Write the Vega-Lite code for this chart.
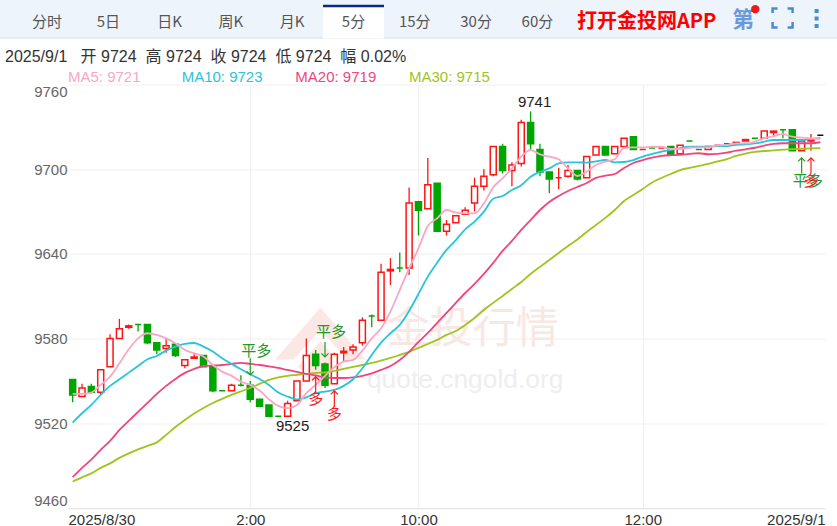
{"$schema":"https://vega.github.io/schema/vega-lite/v6.json","width":757,"height":423.5,"autosize":{"type":"none"},"padding":{"left":68,"top":84.5,"right":12,"bottom":18},"background":"#ffffff","config":{"view":{"stroke":null},"font":"Liberation Sans, Noto Sans CJK SC"},
"datasets":{
"tabs":[{"slot":"分时"},{"slot":"5日"},{"slot":"日K"},{"slot":"周K"},{"slot":"月K"},{"slot":"5分"},{"slot":"15分"},{"slot":"30分"},{"slot":"60分"}],
"ma":[{"s":"ma5","t":"MA5: 9721"},{"s":"ma10","t":"MA10: 9723"},{"s":"ma20","t":"MA20: 9719"},{"s":"ma30","t":"MA30: 9715"}],
"signals":[{"i":19,"k":"平多","d":"down","tip":9554.3,"tail":9566,"tv":9571},{"i":27,"k":"平多","d":"down","tip":9567,"tail":9577.6,"tv":9584.7},{"i":26,"k":"多","d":"up","tip":9553,"tail":9541.6,"tv":9537},{"i":28,"k":"多","d":"up","tip":9543,"tail":9531.6,"tv":9526.7},{"i":78,"k":"平多","d":"up","tip":9708,"tail":9697,"tv":9691.7},{"i":79,"k":"多","d":"up","tip":9708,"tail":9697,"tv":9691.7}],
"candles":[
{"i":0,"o":9551,"h":9551,"l":9535,"c":9540,"dir":"down","ma5":9540.8,"ma10":9520.5,"ma20":9481.8,"ma30":9478.7},
{"i":1,"o":9539,"h":9548,"l":9539,"c":9545,"dir":"up","ma5":9540.8,"ma10":9527.1,"ma20":9488.4,"ma30":9481.7},
{"i":2,"o":9546,"h":9548,"l":9541,"c":9542,"dir":"down","ma5":9541.8,"ma10":9533,"ma20":9494.4,"ma30":9484.5},
{"i":3,"o":9542,"h":9558,"l":9540,"c":9558,"dir":"up","ma5":9547.2,"ma10":9540.1,"ma20":9501.2,"ma30":9488.4},
{"i":4,"o":9560,"h":9583,"l":9560,"c":9580,"dir":"up","ma5":9553.1,"ma10":9546.5,"ma20":9507.5,"ma30":9491.6},
{"i":5,"o":9580,"h":9594,"l":9580,"c":9587,"dir":"up","ma5":9562.5,"ma10":9551.2,"ma20":9515.3,"ma30":9495.5},
{"i":6,"o":9588,"h":9590,"l":9587,"c":9589,"dir":"up","ma5":9572.4,"ma10":9555.9,"ma20":9521.7,"ma30":9498.7},
{"i":7,"o":9590,"h":9590,"l":9585,"c":9590,"dir":"down","ma5":9580.2,"ma10":9560.6,"ma20":9528.1,"ma30":9501.5},
{"i":8,"o":9590,"h":9590,"l":9576,"c":9577,"dir":"down","ma5":9583.8,"ma10":9565.4,"ma20":9534.4,"ma30":9504},
{"i":9,"o":9577,"h":9577,"l":9569,"c":9572,"dir":"down","ma5":9582.6,"ma10":9567.7,"ma20":9540.8,"ma30":9506.5},
{"i":10,"o":9573,"h":9580,"l":9570,"c":9575,"dir":"up","ma5":9580.2,"ma10":9571.5,"ma20":9546.5,"ma30":9511.8},
{"i":11,"o":9576,"h":9577,"l":9567,"c":9568,"dir":"down","ma5":9576.7,"ma10":9574.3,"ma20":9551.4,"ma30":9517.4},
{"i":12,"o":9561,"h":9565,"l":9559,"c":9565,"dir":"up","ma5":9572,"ma10":9576.2,"ma20":9555.7,"ma30":9522.4},
{"i":13,"o":9566,"h":9570,"l":9566,"c":9567,"dir":"up","ma5":9569.6,"ma10":9576.9,"ma20":9558.5,"ma30":9527},
{"i":14,"o":9568,"h":9568,"l":9560,"c":9560,"dir":"down","ma5":9567.3,"ma10":9574.3,"ma20":9560.6,"ma30":9530.9},
{"i":15,"o":9560,"h":9560,"l":9542,"c":9543,"dir":"down","ma5":9561.3,"ma10":9570.8,"ma20":9561,"ma30":9534.4},
{"i":16,"o":9543,"h":9543,"l":9543,"c":9543,"dir":"down","ma5":9556.6,"ma10":9566.1,"ma20":9561.3,"ma30":9537.3},
{"i":17,"o":9543,"h":9548,"l":9543,"c":9547,"dir":"up","ma5":9553.6,"ma10":9562.1,"ma20":9562.1,"ma30":9540.1},
{"i":18,"o":9547,"h":9554,"l":9546,"c":9547,"dir":"down","ma5":9549.5,"ma10":9558.3,"ma20":9562.8,"ma30":9542.6},
{"i":19,"o":9547,"h":9550,"l":9535,"c":9537,"dir":"down","ma5":9547.2,"ma10":9554.7,"ma20":9562.1,"ma30":9545.1},
{"i":20,"o":9537,"h":9537,"l":9532,"c":9532,"dir":"down","ma5":9543.2,"ma10":9551.4,"ma20":9561.3,"ma30":9547.9},
{"i":21,"o":9533,"h":9533,"l":9525,"c":9525,"dir":"down","ma5":9537,"ma10":9547.2,"ma20":9560.3,"ma30":9550.7},
{"i":22,"o":9525,"h":9525,"l":9525,"c":9525,"dir":"down","ma5":9532.3,"ma10":9541.8,"ma20":9559.2,"ma30":9552.5},
{"i":23,"o":9525,"h":9536,"l":9525,"c":9534,"dir":"up","ma5":9530.7,"ma10":9538.9,"ma20":9557.8,"ma30":9553.6},
{"i":24,"o":9536,"h":9550,"l":9536,"c":9550,"dir":"up","ma5":9533,"ma10":9537,"ma20":9556.4,"ma30":9554.3},
{"i":25,"o":9550,"h":9580,"l":9550,"c":9568,"dir":"up","ma5":9541.3,"ma10":9538.4,"ma20":9555,"ma30":9555},
{"i":26,"o":9569,"h":9572,"l":9558,"c":9561,"dir":"down","ma5":9547.2,"ma10":9541.3,"ma20":9553.9,"ma30":9555.7},
{"i":27,"o":9562,"h":9563,"l":9545,"c":9547,"dir":"down","ma5":9553.6,"ma10":9542.5,"ma20":9552.5,"ma30":9556},
{"i":28,"o":9548,"h":9570,"l":9548,"c":9569,"dir":"up","ma5":9559.7,"ma10":9543.6,"ma20":9552.1,"ma30":9557.1},
{"i":29,"o":9570,"h":9574,"l":9564,"c":9571,"dir":"up","ma5":9563.7,"ma10":9546.5,"ma20":9552.1,"ma30":9558.5},
{"i":30,"o":9572,"h":9576,"l":9569,"c":9574,"dir":"up","ma5":9564.9,"ma10":9551.2,"ma20":9552.5,"ma30":9559.9},
{"i":31,"o":9577,"h":9595,"l":9575,"c":9593,"dir":"up","ma5":9571.5,"ma10":9559,"ma20":9553.6,"ma30":9561.3},
{"i":32,"o":9596,"h":9597,"l":9588,"c":9596,"dir":"down","ma5":9580.2,"ma10":9568.4,"ma20":9555.3,"ma30":9562.8},
{"i":33,"o":9593,"h":9633,"l":9593,"c":9627,"dir":"up","ma5":9587.3,"ma10":9577.2,"ma20":9557.8,"ma30":9564.5},
{"i":34,"o":9628,"h":9637,"l":9618,"c":9629,"dir":"up","ma5":9599.1,"ma10":9583.8,"ma20":9560.6,"ma30":9566.3},
{"i":35,"o":9630,"h":9641,"l":9627,"c":9630,"dir":"down","ma5":9614.4,"ma10":9589.7,"ma20":9564.9,"ma30":9568.4},
{"i":36,"o":9630,"h":9687,"l":9625,"c":9676,"dir":"up","ma5":9629.8,"ma10":9599.6,"ma20":9570.6,"ma30":9570.6},
{"i":37,"o":9677,"h":9677,"l":9653,"c":9671,"dir":"down","ma5":9644,"ma10":9611.6,"ma20":9577.6,"ma30":9573.4},
{"i":38,"o":9672,"h":9708,"l":9672,"c":9689,"dir":"up","ma5":9659.8,"ma10":9623.9,"ma20":9584,"ma30":9576.2},
{"i":39,"o":9690,"h":9690,"l":9656,"c":9656,"dir":"down","ma5":9665.2,"ma10":9633.8,"ma20":9591.1,"ma30":9579.1},
{"i":40,"o":9656,"h":9664,"l":9653,"c":9661,"dir":"up","ma5":9671.1,"ma10":9642.8,"ma20":9598.2,"ma30":9582.6},
{"i":41,"o":9662,"h":9667,"l":9662,"c":9667,"dir":"up","ma5":9669.2,"ma10":9649.8,"ma20":9605.3,"ma30":9585.4},
{"i":42,"o":9668,"h":9673,"l":9668,"c":9671,"dir":"up","ma5":9668.7,"ma10":9657.4,"ma20":9612.3,"ma30":9589.7},
{"i":43,"o":9676,"h":9694,"l":9670,"c":9688,"dir":"up","ma5":9668.7,"ma10":9662.8,"ma20":9618.7,"ma30":9594.6},
{"i":44,"o":9688,"h":9700,"l":9685,"c":9695,"dir":"up","ma5":9675.8,"ma10":9669.9,"ma20":9625.8,"ma30":9600.3},
{"i":45,"o":9696,"h":9716,"l":9695,"c":9716,"dir":"up","ma5":9687.1,"ma10":9679.1,"ma20":9633.6,"ma30":9605.3},
{"i":46,"o":9716,"h":9718,"l":9697,"c":9699,"dir":"down","ma5":9693.5,"ma10":9681,"ma20":9642.1,"ma30":9610.2},
{"i":47,"o":9699,"h":9705,"l":9688,"c":9703,"dir":"up","ma5":9700.6,"ma10":9685.3,"ma20":9649.2,"ma30":9615.2},
{"i":48,"o":9704,"h":9735,"l":9702,"c":9733,"dir":"up","ma5":9708.9,"ma10":9688.6,"ma20":9657,"ma30":9620.1},
{"i":49,"o":9733,"h":9741,"l":9714,"c":9718,"dir":"down","ma5":9713.6,"ma10":9694.7,"ma20":9664,"ma30":9625.8},
{"i":50,"o":9714,"h":9718,"l":9695,"c":9698,"dir":"down","ma5":9710.5,"ma10":9698.2,"ma20":9671.1,"ma30":9630.8},
{"i":51,"o":9698,"h":9698,"l":9683,"c":9693,"dir":"down","ma5":9708.9,"ma10":9700.6,"ma20":9676.8,"ma30":9635.7},
{"i":52,"o":9694,"h":9701,"l":9686,"c":9694,"dir":"up","ma5":9707,"ma10":9704.1,"ma20":9681,"ma30":9640.7},
{"i":53,"o":9695,"h":9703,"l":9694,"c":9699,"dir":"up","ma5":9700.6,"ma10":9704.9,"ma20":9684.6,"ma30":9645.6},
{"i":54,"o":9699,"h":9699,"l":9692,"c":9693,"dir":"down","ma5":9695.2,"ma10":9704.9,"ma20":9687.4,"ma30":9650.2},
{"i":55,"o":9694,"h":9709,"l":9694,"c":9709,"dir":"up","ma5":9698.2,"ma10":9704.6,"ma20":9690.2,"ma30":9655.5},
{"i":56,"o":9710,"h":9716,"l":9710,"c":9716,"dir":"up","ma5":9703,"ma10":9705.6,"ma20":9693.8,"ma30":9660.5},
{"i":57,"o":9716,"h":9716,"l":9710,"c":9710,"dir":"down","ma5":9705.3,"ma10":9706.5,"ma20":9695.4,"ma30":9665.5},
{"i":58,"o":9711,"h":9716,"l":9711,"c":9716,"dir":"up","ma5":9707,"ma10":9704.8,"ma20":9696.6,"ma30":9671.1},
{"i":59,"o":9716,"h":9722,"l":9716,"c":9722,"dir":"up","ma5":9715.2,"ma10":9705.1,"ma20":9700.9,"ma30":9677.5},
{"i":60,"o":9723,"h":9723,"l":9714,"c":9714,"dir":"down","ma5":9715.5,"ma10":9706.5,"ma20":9704.4,"ma30":9681.7},
{"i":61,"o":9714,"h":9714,"l":9714,"c":9714,"dir":"up","ma5":9715.5,"ma10":9708.9,"ma20":9706.5,"ma30":9686},
{"i":62,"o":9715,"h":9715,"l":9715,"c":9715,"dir":"down","ma5":9715.9,"ma10":9710.7,"ma20":9708.2,"ma30":9690.6},
{"i":63,"o":9715,"h":9715,"l":9715,"c":9715,"dir":"up","ma5":9715.9,"ma10":9712.4,"ma20":9709.4,"ma30":9693.8},
{"i":64,"o":9716,"h":9716,"l":9710,"c":9710,"dir":"down","ma5":9714.3,"ma10":9713.6,"ma20":9709.9,"ma30":9696.6},
{"i":65,"o":9711,"h":9717,"l":9711,"c":9717,"dir":"up","ma5":9714.3,"ma10":9715,"ma20":9710.1,"ma30":9699.4},
{"i":66,"o":9720,"h":9720,"l":9720,"c":9720,"dir":"down","ma5":9715.2,"ma10":9715.9,"ma20":9710.8,"ma30":9700.9},
{"i":67,"o":9714,"h":9714,"l":9714,"c":9714,"dir":"down","ma5":9715.5,"ma10":9715.9,"ma20":9711.3,"ma30":9702.3},
{"i":68,"o":9714,"h":9716,"l":9714,"c":9716,"dir":"up","ma5":9715.5,"ma10":9715.9,"ma20":9710.6,"ma30":9703.7},
{"i":69,"o":9717,"h":9717,"l":9717,"c":9717,"dir":"up","ma5":9716.9,"ma10":9716.4,"ma20":9710.8,"ma30":9705.5},
{"i":70,"o":9718,"h":9718,"l":9718,"c":9718,"dir":"down","ma5":9717.1,"ma10":9716.4,"ma20":9711.7,"ma30":9707.2},
{"i":71,"o":9718,"h":9719,"l":9718,"c":9719,"dir":"up","ma5":9718.3,"ma10":9717.3,"ma20":9713.1,"ma30":9709.4},
{"i":72,"o":9720,"h":9721,"l":9720,"c":9721,"dir":"up","ma5":9718.3,"ma10":9717.6,"ma20":9714.1,"ma30":9711.1},
{"i":73,"o":9722,"h":9722,"l":9722,"c":9722,"dir":"down","ma5":9719.5,"ma10":9718.3,"ma20":9715.2,"ma30":9712.2},
{"i":74,"o":9722,"h":9727,"l":9722,"c":9727,"dir":"up","ma5":9721.8,"ma10":9719.5,"ma20":9716.7,"ma30":9712.9},
{"i":75,"o":9726,"h":9727,"l":9723,"c":9727,"dir":"up","ma5":9723.5,"ma10":9720.7,"ma20":9717.9,"ma30":9713.4},
{"i":76,"o":9728,"h":9728,"l":9722,"c":9728,"dir":"down","ma5":9724.9,"ma10":9720.7,"ma20":9718.4,"ma30":9713.8},
{"i":77,"o":9728,"h":9728,"l":9713,"c":9713,"dir":"down","ma5":9723,"ma10":9720.7,"ma20":9718.4,"ma30":9714.2},
{"i":78,"o":9713,"h":9720,"l":9713,"c":9720,"dir":"up","ma5":9722.3,"ma10":9720.7,"ma20":9718.4,"ma30":9714.5},
{"i":79,"o":9720,"h":9725,"l":9713,"c":9721,"dir":"up","ma5":9721.8,"ma10":9721.4,"ma20":9718.4,"ma30":9714.7},
{"i":80,"o":9724,"h":9724,"l":9724,"c":9724,"dir":"flat","ma5":9721.4,"ma10":9722.1,"ma20":9719.1,"ma30":9715}
]},
"resolve":{"scale":{"x":"independent","y":"independent","stroke":"independent","color":"independent"},"axis":{"x":"independent","y":"independent"}},
"layer":[
{"encoding":{
"x":{"field":"slot","type":"nominal","axis":null,"scale":{"type":"band","domain":["分时","5日","日K","周K","月K","5分","15分","30分","60分","打开金投网APP","空","第","全屏"],"range":[-51.65,745.25],"paddingInner":0,"paddingOuter":0}},
"y":{"field":"row","type":"nominal","axis":null,"scale":{"type":"point","domain":["top","tabs","line","info","ma"],"range":[-78.5,-14.5],"padding":0}}},
"layer":[
{"data":{"values":[{"slot":"15分","row":"top"}]},"mark":{"type":"tick","orient":"horizontal","size":860,"thickness":40,"color":"#eef4fc","opacity":1}},
{"data":{"values":[{"slot":"15分","row":"tabs"}]},"mark":{"type":"tick","orient":"horizontal","size":860,"thickness":33,"color":"#eef4fc","opacity":1}},
{"data":{"values":[{"slot":"15分","row":"line"}]},"mark":{"type":"tick","orient":"horizontal","size":860,"thickness":1,"color":"#d4e0f0","opacity":1}},
{"data":{"values":[{"slot":"5分","row":"tabs"}]},"mark":{"type":"tick","orient":"horizontal","size":61,"thickness":33,"color":"#ffffff","opacity":1}},
{"data":{"values":[{"slot":"5分","row":"top"}]},"mark":{"type":"tick","orient":"horizontal","size":61,"thickness":2.5,"color":"#0b2a7f","opacity":1}},
{"data":{"name":"tabs"},"transform":[{"calculate":"'tabs'","as":"row"}],"mark":{"type":"text","font":"Noto Sans CJK SC","fontSize":15,"color":"#555555"},"encoding":{"text":{"field":"slot"}}},
{"data":{"values":[{"slot":"打开金投网APP","row":"tabs"}]},"mark":{"type":"text","font":"Noto Sans CJK SC","fontWeight":"bold","fontSize":20,"color":"#ff0000","dx":48},"encoding":{"text":{"field":"slot"}}},
{"data":{"values":[{"slot":"第","row":"tabs"}]},"mark":{"type":"text","font":"Noto Sans CJK SC","fontWeight":"bold","fontSize":22,"color":"#6a9bd8","dx":22,"dy":-2},"encoding":{"text":{"field":"slot"}}},
{"data":{"values":[{"slot":"第","row":"top","t":"●"}]},"mark":{"type":"text","font":"DejaVu Sans","fontSize":11,"color":"#f01818","dx":34,"dy":3},"encoding":{"text":{"field":"t"}}},
{"data":{"values":[{"slot":"全屏","row":"tabs"}]},"mark":{"type":"point","filled":false,"size":400,"stroke":"#4a8ad0","strokeWidth":2.5,"opacity":1,"shape":"M-1,-0.9V-1.35H-0.5M0.5,-1.35H1V-0.9M1,0H1V0.55H0.5M-0.5,0.55H-1V0"}},
{"data":{"values":[{"slot":"全屏","row":"tabs"}]},"mark":{"type":"point","filled":true,"size":400,"fill":"#4a8ad0","opacity":1,"shape":"M3.2,-1.3h.4v.4h-.4zM3.2,-.55h.4v.4h-.4zM3.2,.2h.4v.4h-.4z"}},
{"data":{"values":[{"slot":"分时","row":"info","t":"2025/9/1\u00a0\u00a0\u00a0开 9724\u00a0\u00a0高 9724\u00a0\u00a0收 9724\u00a0\u00a0低 9724\u00a0\u00a0幅 0.02%"}]},"mark":{"type":"text","align":"left","fontSize":16,"color":"#333333","dx":-42,"dy":3},"encoding":{"text":{"field":"t"}}}
]},
{"data":{"name":"ma"},"transform":[{"calculate":"'l'","as":"r"}],"mark":{"type":"text","align":"left","fontSize":15},"encoding":{
"x":{"field":"s","type":"nominal","axis":null,"scale":{"type":"point","domain":["ma5","ma10","ma20","ma30"],"range":[0,341],"padding":0}},
"y":{"field":"r","type":"nominal","axis":null,"scale":{"type":"point","domain":["l","m"],"range":[-8,10],"padding":0}},
"color":{"field":"s","type":"nominal","legend":null,"scale":{"domain":["ma5","ma10","ma20","ma30"],"range":["#f8a8c6","#28c4dc","#f0457f","#9fc41e"]}},
"text":{"field":"t"}}},
{"encoding":{
"x":{"field":"i","type":"quantitative","scale":{"domain":[-0.5,80.5],"nice":false,"zero":false,"padding":0},"axis":{"title":null,"values":[-0.5,19,37,61,80.5],"labelExpr":"datum.value<0?'2025/8/30':datum.value==19?'2:00':datum.value==37?'10:00':datum.value==61?'12:00':'2025/9/1'","labelAlign":{"condition":[{"test":"datum.value<0","value":"left"},{"test":"datum.value>80","value":"right"}],"value":"center"},"labelFontSize":15,"labelColor":"#333333","labelPadding":4,"ticks":false,"grid":true,"gridColor":"#efefef","gridOpacity":{"condition":{"test":"datum.value<0||datum.value>80","value":0},"value":1},"domainColor":"#e6e6e6","labelOverlap":false}},
"y":{"type":"quantitative","scale":{"domain":[9460,9760],"nice":false,"zero":false},"axis":{"title":null,"values":[9460,9520,9580,9640,9700,9760],"labelFlush":true,"labelFlushOffset":0,"labelFontSize":15,"labelColor":"#666666","labelPadding":1,"ticks":false,"domain":false,"grid":true,"gridColor":"#efefef","format":"d"}}},
"layer":[
{"data":{"values":[{"i":42.8,"v":9586,"t":"金投行情"}]},"mark":{"type":"text","font":"Noto Sans CJK SC","fontSize":43,"color":"#f8e8e4"},"encoding":{"y":{"field":"v","type":"quantitative"},"text":{"field":"t"}}},
{"data":{"values":[{"i":42,"v":9550.7,"t":"quote.cngold.org"}]},"mark":{"type":"text","fontSize":26.4,"color":"#eeeeee"},"encoding":{"y":{"field":"v","type":"quantitative"},"text":{"field":"t"}}},
{"data":{"values":[{"i":26.5,"v":9570}]},"mark":{"type":"point","filled":true,"size":8100,"fill":"#fbe8e4","opacity":1,"shape":"M0,-1L1,0.15L0.6,0.15L0,-0.5L-0.6,0.15L-1,0.15ZM0,-0.25L0.5,0.3L0,0.8L-0.5,0.3Z"},"encoding":{"y":{"field":"v","type":"quantitative"}}},
{"data":{"name":"candles"},"mark":{"type":"rule","strokeWidth":1.3},"encoding":{"y":{"field":"h","type":"quantitative"},"y2":{"field":"l"},"stroke":{"field":"dir","type":"nominal","legend":null,"scale":{"domain":["ma5","ma10","ma20","ma30","up","down","flat"],"range":["#f8a8c6","#28c4dc","#f0457f","#9fc41e","#ff1414","#00a600","#111111"]}}}},
{"data":{"name":"candles"},"mark":{"type":"bar","size":6,"strokeWidth":1.5},"encoding":{"y":{"field":"o","type":"quantitative"},"y2":{"field":"c"},"stroke":{"field":"dir","type":"nominal","legend":null},"fill":{"field":"dir","type":"nominal","legend":null,"scale":{"domain":["up","down","flat"],"range":["#ffffff","#00a600","#111111"]}}}},
{"data":{"name":"candles"},"transform":[{"fold":["ma30","ma20","ma10","ma5"],"as":["s","val"]}],"mark":{"type":"line","strokeWidth":1.8,"interpolate":"monotone"},"encoding":{"y":{"field":"val","type":"quantitative"},"detail":{"field":"s"},"stroke":{"field":"s","type":"nominal","legend":null}}},
{"data":{"name":"signals"},"mark":{"type":"rule","strokeWidth":1.2},"encoding":{"y":{"field":"tail","type":"quantitative"},"y2":{"field":"tip"},"color":{"field":"k","type":"nominal","legend":null,"scale":{"domain":["平多","多"],"range":["#1f9a1f","#ff1a1a"]}}}},
{"data":{"name":"signals"},"transform":[{"filter":"datum.d=='down'"}],"mark":{"type":"point","filled":false,"size":50,"strokeWidth":1.2,"opacity":1,"shape":"M-1,-1L0,0L1,-1"},"encoding":{"y":{"field":"tip","type":"quantitative"},"color":{"field":"k","type":"nominal","legend":null}}},
{"data":{"name":"signals"},"transform":[{"filter":"datum.d=='up'"}],"mark":{"type":"point","filled":false,"size":50,"strokeWidth":1.2,"opacity":1,"shape":"M-1,1L0,0L1,1"},"encoding":{"y":{"field":"tip","type":"quantitative"},"color":{"field":"k","type":"nominal","legend":null}}},
{"data":{"name":"signals"},"transform":[{"filter":"datum.k=='平多'"}],"mark":{"type":"text","font":"Noto Sans CJK SC","fontSize":15,"dx":6},"encoding":{"y":{"field":"tv","type":"quantitative"},"text":{"field":"k"},"color":{"field":"k","type":"nominal","legend":null}}},
{"data":{"name":"signals"},"transform":[{"filter":"datum.k=='多'"}],"mark":{"type":"text","font":"Noto Sans CJK SC","fontSize":15},"encoding":{"y":{"field":"tv","type":"quantitative"},"text":{"field":"k"},"color":{"field":"k","type":"nominal","legend":null}}},
{"data":{"values":[{"i":49,"v":9741}]},"mark":{"type":"text","fontSize":15,"color":"#222222","dx":4,"dy":-9},"encoding":{"y":{"field":"v","type":"quantitative"},"text":{"field":"v","type":"quantitative"}}},
{"data":{"values":[{"i":23,"v":9525}]},"mark":{"type":"text","fontSize":15,"color":"#222222","dx":5,"dy":10},"encoding":{"y":{"field":"v","type":"quantitative"},"text":{"field":"v","type":"quantitative"}}}
]}
]}
